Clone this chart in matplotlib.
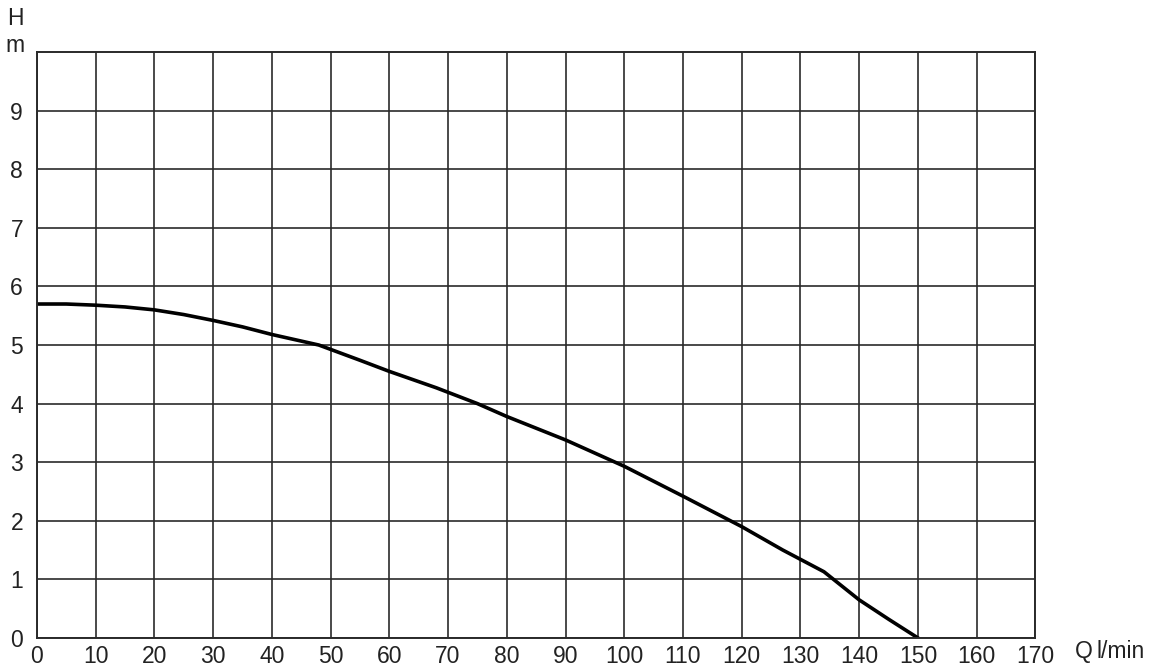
import matplotlib.pyplot as plt
import numpy as np

# pump curve: flow Q (l/min) vs head H (m)
q = [0, 5, 10, 15, 20, 25, 30, 35, 40, 48, 55, 60, 68, 75, 80, 90, 100, 110, 120, 127, 134, 140, 145, 150]
h = [5.7, 5.7, 5.68, 5.65, 5.6, 5.52, 5.42, 5.31, 5.18, 5.0, 4.74, 4.55, 4.27, 4.0, 3.78, 3.38, 2.93, 2.42, 1.9, 1.5, 1.13, 0.65, 0.32, 0.0]

x_ticks = np.arange(0, 171, 10)
y_ticks = np.arange(0, 10, 1)

plt.rcParams.update({
    'font.family': 'Liberation Sans',
    'font.size': 16.5,
})

fig = plt.figure(figsize=(11.53, 6.68), dpi=100)
ax = fig.add_axes([0.032, 0.045, 0.866, 0.877])

ax.plot(q, h, color='black', linewidth=2.6)

ax.set_xlim(0, 170)
ax.set_ylim(0, 10)
ax.set_xticks(x_ticks)
ax.set_yticks(y_ticks)
ax.grid(True, color='#2a2a2a', linewidth=1.2)
for s in ax.spines.values():
    s.set_color('#2a2a2a')
    s.set_linewidth(1.4)
ax.tick_params(length=0, pad=5, colors='#222222')
ax.tick_params(axis='y', pad=10)

fig.text(0.013, 0.972, 'H', fontsize=16.5, ha='center', va='center', color='#222222')
fig.text(0.013, 0.932, 'm', fontsize=16.5, ha='center', va='center', color='#222222')
fig.text(0.932, 0.024, 'Q', fontsize=16.5, ha='left', va='center', color='#222222')
fig.text(0.951, 0.024, 'l/min', fontsize=16.5, ha='left', va='center', color='#222222')

plt.savefig('out.png', dpi=100)
